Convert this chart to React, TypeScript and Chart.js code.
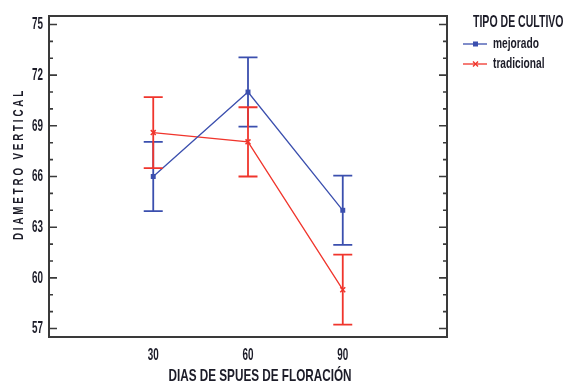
import React, { useEffect, useRef } from 'react';
import { Chart, registerables } from 'chart.js';

Chart.register(...registerables);

// ---- data ----
const days = [30, 60, 90];
const mejorado = [66.0, 71.0, 64.0];
const mejoradoErr = [2.05, 2.05, 2.05];
const tradicional = [68.6, 68.05, 59.3];
const tradicionalErr = [2.1, 2.05, 2.07];
const seriesNames = ['mejorado', 'tradicional'];
const xTicks = [30, 60, 90];
const yTicks = [57, 60, 63, 66, 69, 72, 75];
const legendTitle = 'TIPO DE CULTIVO';
const xTitle = 'DIAS DE SPUES DE FLORACIÓN';
const yTitle = 'DIAMETRO VERTICAL';

const BLUE = '#3b4fae';
const RED = '#f0352c';
const FONT = '"Liberation Sans", Arial, sans-serif';
const TEXT = '#1c1c28';

type TextOpts = {
  size: number;
  weight?: string;
  k: number;
  align?: CanvasTextAlign;
  baseline?: CanvasTextBaseline;
  spacing?: number;
  rotate?: boolean;
};

function drawText(ctx: CanvasRenderingContext2D, text: string, x: number, y: number, o: TextOpts) {
  ctx.save();
  ctx.translate(x, y);
  if (o.rotate) ctx.rotate(-Math.PI / 2);
  ctx.scale(o.k, 1);
  ctx.font = `${o.weight || 'bold'} ${o.size}px ${FONT}`;
  if (o.spacing) {
    try { (ctx as any).letterSpacing = `${o.spacing}px`; } catch (e) {}
  }
  ctx.fillStyle = TEXT;
  ctx.textAlign = o.align || 'left';
  ctx.textBaseline = o.baseline || 'middle';
  ctx.fillText(text, 0, 0);
  ctx.restore();
}

const errorBarsPlugin = {
  id: 'errorBars',
  afterDatasetsDraw(chart: any) {
    const ctx = chart.ctx;
    const y = chart.scales.y;
    chart.data.datasets.forEach((ds: any, i: number) => {
      const meta = chart.getDatasetMeta(i);
      ctx.save();
      ctx.strokeStyle = ds.borderColor;
      ctx.lineWidth = 1.8;
      meta.data.forEach((pt: any, j: number) => {
        const v = ds.data[j].y;
        const e = ds.errors[j];
        const yTop = y.getPixelForValue(v + e);
        const yBot = y.getPixelForValue(v - e);
        const x = pt.x;
        ctx.beginPath();
        ctx.moveTo(x, yTop);
        ctx.lineTo(x, yBot);
        ctx.moveTo(x - 9.5, yTop);
        ctx.lineTo(x + 9.5, yTop);
        ctx.moveTo(x - 9.5, yBot);
        ctx.lineTo(x + 9.5, yBot);
        ctx.stroke();
      });
      ctx.restore();
    });
  },
};

const framePlugin = {
  id: 'frame',
  afterDraw(chart: any) {
    const ctx = chart.ctx as CanvasRenderingContext2D;
    const { left, right, top, bottom } = chart.chartArea;
    const xs = chart.scales.x;
    const y = chart.scales.y;

    // plot frame with inward ticks on both sides
    ctx.save();
    ctx.strokeStyle = '#3a3a3a';
    ctx.lineWidth = 2;
    ctx.strokeRect(left, top, right - left, bottom - top);
    ctx.lineWidth = 1.6;
    const lo = yTicks[0];
    const hi = yTicks[yTicks.length - 1];
    for (let v = lo; v <= hi; v += 1) {
      const p = y.getPixelForValue(v);
      const major = yTicks.includes(v);
      const len = major ? 8 : 4;
      ctx.beginPath();
      ctx.moveTo(left, p);
      ctx.lineTo(left + len, p);
      ctx.moveTo(right, p);
      ctx.lineTo(right - len, p);
      ctx.stroke();
    }
    ctx.restore();

    // tick labels
    y.ticks.forEach((t: any) => {
      drawText(ctx, String(t.value), left - 6, y.getPixelForValue(t.value), {
        size: 17, k: 0.58, align: 'right',
      });
    });
    xs.ticks.forEach((t: any) => {
      drawText(ctx, String(t.value), xs.getPixelForValue(t.value), bottom + 18, {
        size: 17, k: 0.58, align: 'center',
      });
    });

    // axis titles
    drawText(ctx, xTitle, 260, 376, { size: 17, k: 0.69, align: 'center' });
    drawText(ctx, yTitle, 19, 164, { size: 15, k: 0.65, align: 'center', spacing: 4.4, rotate: true });

    // legend
    drawText(ctx, legendTitle, 473, 22, { size: 17, k: 0.62 });
    const rows = [44, 64];
    const textRows = [44, 63.5];
    chart.data.datasets.forEach((ds: any, i: number) => {
      const ly = rows[i];
      ctx.save();
      ctx.strokeStyle = ds.borderColor;
      ctx.fillStyle = ds.borderColor;
      ctx.lineWidth = 1.3;
      ctx.beginPath();
      ctx.moveTo(463, ly);
      ctx.lineTo(487, ly);
      ctx.stroke();
      if (i === 0) {
        ctx.fillRect(473, ly - 2.5, 5, 5);
      } else {
        ctx.lineWidth = 1.4;
        ctx.beginPath();
        ctx.moveTo(473, ly - 2.5);
        ctx.lineTo(478, ly + 2.5);
        ctx.moveTo(478, ly - 2.5);
        ctx.lineTo(473, ly + 2.5);
        ctx.stroke();
      }
      ctx.restore();
      drawText(ctx, ds.label, 493, textRows[i], { size: 15, k: 0.68 });
    });
  },
};

export default function App() {
  const ref = useRef<HTMLCanvasElement | null>(null);

  useEffect(() => {
    document.body.style.margin = '0';
    const canvas = ref.current;
    if (!canvas) return;
    const chart = new Chart(canvas, {
      type: 'line',
      data: {
        datasets: [
          {
            label: seriesNames[0],
            data: days.map((d, i) => ({ x: d, y: mejorado[i] })),
            errors: mejoradoErr,
            borderColor: BLUE,
            backgroundColor: BLUE,
            borderWidth: 1.3,
            pointStyle: 'rect',
            pointRadius: 3.5,
            pointBorderWidth: 0,
            tension: 0,
          } as any,
          {
            label: seriesNames[1],
            data: days.map((d, i) => ({ x: d, y: tradicional[i] })),
            errors: tradicionalErr,
            borderColor: RED,
            backgroundColor: RED,
            borderWidth: 1.3,
            pointStyle: 'crossRot',
            pointRadius: 3.5,
            pointBorderWidth: 1.5,
            tension: 0,
          } as any,
        ],
      },
      options: {
        animation: false,
        responsive: false,
        devicePixelRatio: 1,
        layout: { padding: { top: 16, right: 116, left: 0, bottom: 0 } },
        plugins: {
          legend: { display: false },
          tooltip: { enabled: false },
          title: { display: false },
        },
        scales: {
          x: {
            type: 'linear',
            min: -3,
            max: 123,
            grid: { display: false },
            border: { display: false },
            afterBuildTicks: (s: any) => {
              s.ticks = xTicks.map((v) => ({ value: v }));
            },
            afterFit: (s: any) => {
              s.height = 48;
            },
            ticks: { display: false },
          },
          y: {
            type: 'linear',
            min: 56.5,
            max: 75.5,
            grid: { display: false },
            border: { display: false },
            afterBuildTicks: (s: any) => {
              s.ticks = yTicks.map((v) => ({ value: v }));
            },
            afterFit: (s: any) => {
              s.width = 49;
            },
            ticks: { display: false },
          },
        },
      },
      plugins: [errorBarsPlugin, framePlugin],
    } as any);
    return () => chart.destroy();
  }, []);

  return (
    <div style={{ width: 563, height: 385, background: '#fff' }}>
      <canvas ref={ref} width={563} height={385} />
    </div>
  );
}
